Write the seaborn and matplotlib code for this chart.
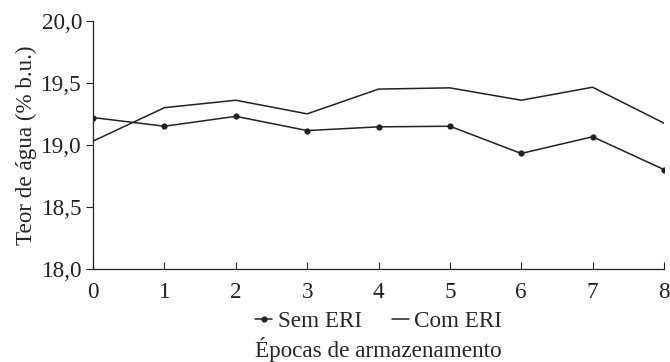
import numpy as np
import pandas as pd
import matplotlib.pyplot as plt
import seaborn as sns

sns.set_style('ticks')
plt.rcParams['font.family'] = ['Liberation Serif', 'DejaVu Serif']
fs = 16.7
plt.rcParams['font.size'] = fs

# Data
epocas = [0, 1, 2, 3, 4, 5, 6, 7, 8]
sem_eri = [19.22, 19.15, 19.23, 19.115, 19.145, 19.15, 18.93, 19.065, 18.80]
com_eri = [19.03, 19.30, 19.36, 19.25, 19.45, 19.46, 19.36, 19.465, 19.175]

data = pd.DataFrame({
    'epoca': epocas * 2,
    'teor': sem_eri + com_eri,
    'grupo': ['Sem ERI'] * len(epocas) + ['Com ERI'] * len(epocas),
})

fig = plt.figure(figsize=(6.7, 3.62), dpi=100)
ax = fig.add_axes([0.139, 0.258, 0.852, 0.684])

sns.lineplot(data=data[data['grupo'] == 'Sem ERI'], x='epoca', y='teor',
             color='#222222', linewidth=1.1, marker='o', markersize=4.5,
             markeredgewidth=0, label='Sem ERI', ax=ax)
sns.lineplot(data=data[data['grupo'] == 'Com ERI'], x='epoca', y='teor',
             color='#222222', linewidth=1.1, label='Com ERI', ax=ax)

ax.set_xlim(0, 8)
ax.set_ylim(18.0, 20.0)
ax.set_xticks(epocas)
ax.set_yticks([18.0, 18.5, 19.0, 19.5, 20.0])
ax.set_yticklabels(['18,0', '18,5', '19,0', '19,5', '20,0'])
ax.tick_params(axis='x', direction='in', length=5, width=0.8, pad=10, colors='#222222', labelsize=fs)
ax.tick_params(axis='y', direction='out', length=5, width=0.8, pad=3, colors='#222222', labelsize=fs)
for s in ['top', 'right']:
    ax.spines[s].set_visible(False)
for s in ['left', 'bottom']:
    ax.spines[s].set_linewidth(0.9)
    ax.spines[s].set_color('#222222')

ax.set_ylabel('Teor de água (% b.u.)', fontsize=fs, labelpad=3)
ax.set_xlabel('Épocas de armazenamento', fontsize=fs, labelpad=24)

ax.legend(loc='upper center', bbox_to_anchor=(0.5, -0.172), ncol=2, frameon=False,
          fontsize=fs, handlelength=0.75, handletextpad=0.22, columnspacing=1.3,
          borderaxespad=0, borderpad=0)

fig.savefig('out.png', dpi=100)
